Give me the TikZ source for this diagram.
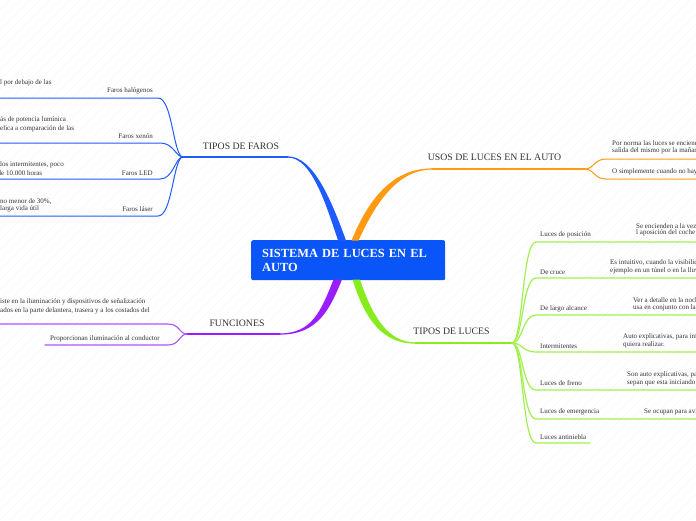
\documentclass[tikz,border=0pt]{standalone}
\usepackage{fontspec}
\setmainfont{Liberation Serif}
\usetikzlibrary{positioning}
\definecolor{mapblue}{HTML}{1F5BFF}
\definecolor{nodeblue}{HTML}{0A55F8}
\definecolor{maporange}{HTML}{FF9A12}
\definecolor{mapgreen}{HTML}{86EC1E}
\definecolor{lightgreen}{HTML}{A2F050}
\definecolor{mappurple}{HTML}{9B1CFF}
\definecolor{lightpurple}{HTML}{AD55FF}
\definecolor{txtgray}{HTML}{333333}

\begin{document}
\begin{tikzpicture}[x=1pt, y=-1pt, line cap=round,
  leaf/.style={font=\fontsize{7}{8}\selectfont, text=txtgray, inner sep=0pt},
  topic/.style={font=\fontsize{9.8}{11}\selectfont, text=txtgray, inner sep=0pt},
  stripe/.style={black!3, line width=0.4pt}]

% Background
\useasboundingbox (0,0) rectangle (696,520);
\fill[white] (0,0) rectangle (696,520);
\begin{scope}
\clip (0,0) rectangle (696,520);
\foreach \s in {-520,-510,...,700}
  \draw[stripe] (\s,520) -- (\s+520,0);

% =========== CENTRAL TOPIC ===========
\node[fill=nodeblue, rounded corners=2pt, minimum width=194pt, minimum height=40pt,
      text width=172pt, align=left, font=\fontsize{12.4}{13.5}\selectfont\bfseries,
      text=white, anchor=north west, inner xsep=11pt, inner ysep=0pt] (centro) at (251,240)
  {SISTEMA DE LUCES EN EL\\AUTO};

% =========== TIPOS DE FAROS (blue) ===========
\coordinate (farosEnd) at (288,157);
\coordinate (farosJ) at (182,157);
\fill[mapblue] (288,156.4) .. controls (313,156.4) and (331,199) .. (346,240.5)
  -- (338,240.5) .. controls (325,201) and (311,157.6) .. (288,157.6) -- cycle;
\draw[mapblue, line width=1.3pt] (farosEnd) -- (farosJ);
\node[topic] (faros) at (241,146) {TIPOS DE FAROS};

\coordinate (halEnd) at (0,98);
\coordinate (xenEnd) at (0,143);
\coordinate (ledEnd) at (0,179);
\coordinate (lasEnd) at (0,216);
\draw[mapblue, line width=1pt] (farosJ) .. controls (173,152) and (172,98) .. (158,98) -- (halEnd);
\draw[mapblue, line width=1pt] (farosJ) .. controls (175,155) and (173,143) .. (160,143) -- (xenEnd);
\draw[mapblue, line width=1pt] (farosJ) .. controls (175,159) and (173,179) .. (160,179) -- (ledEnd);
\draw[mapblue, line width=1pt] (farosJ) .. controls (173,162) and (172,216) .. (158,216) -- (lasEnd);

\node[leaf, anchor=east] (hal) at (153,91) {Faros halógenos};
\node[leaf, anchor=east] (xen) at (153,136) {Faros xenón};
\node[leaf, anchor=east] (led) at (153,173) {Faros LED};
\node[leaf, anchor=east] (las) at (153,209) {Faros láser};

\node[leaf, anchor=west] (halA) at (0,83) {l por debajo de las};
\node[leaf, anchor=west] (xenA) at (0,120) {ás de potencia lumínica};
\node[leaf, anchor=west] (xenB) at (0,129) {elica a comparación de las};
\node[leaf, anchor=west] (ledA) at (0,165) {los intermitentes, poco};
\node[leaf, anchor=west] (ledB) at (-2.5,173) {de 10.000 horas};
\node[leaf, anchor=west] (lasA) at (0,202) {no menor de 30\%,};
\node[leaf, anchor=west] (lasB) at (0,209) {larga vida útil};

% =========== USOS DE LUCES (orange) ===========
\coordinate (usosEnd) at (432,169);
\coordinate (usosJ) at (585,169);
\fill[maporange] (351.5,240.5) .. controls (369,198) and (393,168.4) .. (432,168.4)
  -- (432,169.6) .. controls (398,169.6) and (376,202) .. (358.5,240.5) -- cycle;
\draw[maporange, line width=1.3pt] (usosEnd) -- (usosJ);
\node[topic] (usos) at (494.5,157) {USOS DE LUCES EN EL AUTO};

\coordinate (normaEnd) at (700,159);
\coordinate (simpleEnd) at (700,179);
\draw[maporange, line width=1pt] (usosJ) .. controls (594,169) and (594,159) .. (606,159) -- (normaEnd);
\draw[maporange, line width=1pt] (usosJ) .. controls (594,169) and (594,179) .. (606,179) -- (simpleEnd);
\node[leaf, anchor=west] (normaA) at (612,143) {Por norma las luces se encienden a la};
\node[leaf, anchor=west] (normaB) at (612,151) {salida del mismo por la mañana};
\node[leaf, anchor=west] (simple) at (612,172) {O simplemente cuando no hay luz};

% =========== TIPOS DE LUCES (green) ===========
\coordinate (lucesEnd) at (415,343);
\coordinate (lucesJ) at (512,343);
\fill[mapgreen] (352.5,279.5) .. controls (365,320) and (383,343.6) .. (415,343.6)
  -- (415,342.4) .. controls (388,342.4) and (372,316) .. (360,279.5) -- cycle;
\draw[mapgreen, line width=1.3pt] (lucesEnd) -- (lucesJ);
\node[topic] (luces) at (451.5,331) {TIPOS DE LUCES};

\foreach \y/\xe in {242/700, 278/700, 315/700, 352/700, 390/700, 419/700, 443/590}
  \draw[lightgreen, line width=1.2pt] (lucesJ) .. controls (523,343) and (522,\y) .. (536,\y) -- (\xe,\y);

\node[leaf, anchor=west] (posicion) at (540,235) {Luces de posición};
\node[leaf, anchor=west] (cruce) at (540,272) {De cruce};
\node[leaf, anchor=west] (largo) at (540,309) {De largo alcance};
\node[leaf, anchor=west] (intermit) at (540,346) {Intermitentes};
\node[leaf, anchor=west] (freno) at (540,383) {Luces de freno};
\node[leaf, anchor=west] (emerg) at (540,412) {Luces de emergencia};
\node[leaf, anchor=west] (niebla) at (540,437) {Luces antiniebla};

\node[leaf, anchor=west] (posA) at (636,226) {Se encienden a la vez};
\node[leaf, anchor=west] (posB) at (636,233) {l aposición del coche};
\node[leaf, anchor=west] (cruA) at (610,263) {Es intuitivo, cuando la visibilidad};
\node[leaf, anchor=west] (cruB) at (610,271) {ejemplo en un túnel o en la lluvia};
\node[leaf, anchor=west] (larA) at (633,300) {Ver a detalle en la noche};
\node[leaf, anchor=west] (larB) at (633,308) {usa en conjunto con las};
\node[leaf, anchor=west] (intA) at (623,337) {Auto explicativas, para informar};
\node[leaf, anchor=west] (intB) at (623,345) {quiera realizar.};
\node[leaf, anchor=west] (freA) at (627,375) {Son auto explicativas, para};
\node[leaf, anchor=west] (freB) at (627,383) {sepan que esta iniciando};
\node[leaf, anchor=west] (emeA) at (644,412) {Se ocupan para avisar};

% =========== FUNCIONES (purple) ===========
\coordinate (funcEnd) at (280,334);
\coordinate (funcJ) at (187,334);
\fill[mappurple] (333.5,279.5) .. controls (321,311) and (312,333.4) .. (280,333.4)
  -- (280,334.6) .. controls (318,334.6) and (330,309) .. (342,279.5) -- cycle;
\draw[mappurple, line width=1.3pt] (funcEnd) -- (funcJ);
\node[topic] (func) at (237,323) {FUNCIONES};

\coordinate (sistEnd) at (-4,324);
\coordinate (propEnd) at (45,345);
\draw[lightpurple, line width=1.1pt] (funcJ) .. controls (179,334) and (180,324) .. (168,324) -- (sistEnd);
\draw[lightpurple, line width=1.1pt] (funcJ) .. controls (179,334) and (180,345) .. (168,345) -- (propEnd);
\node[leaf, anchor=west] (sistA) at (0,302) {iste en la iluminación y dispositivos de señalización};
\node[leaf, anchor=west] (sistB) at (0,311) {ados en la parte delantera, trasera y a los costados del};
\node[leaf, anchor=west] (prop) at (50,339) {Proporcionan iluminación al conductor};
\end{scope}

\end{tikzpicture}
\end{document}
